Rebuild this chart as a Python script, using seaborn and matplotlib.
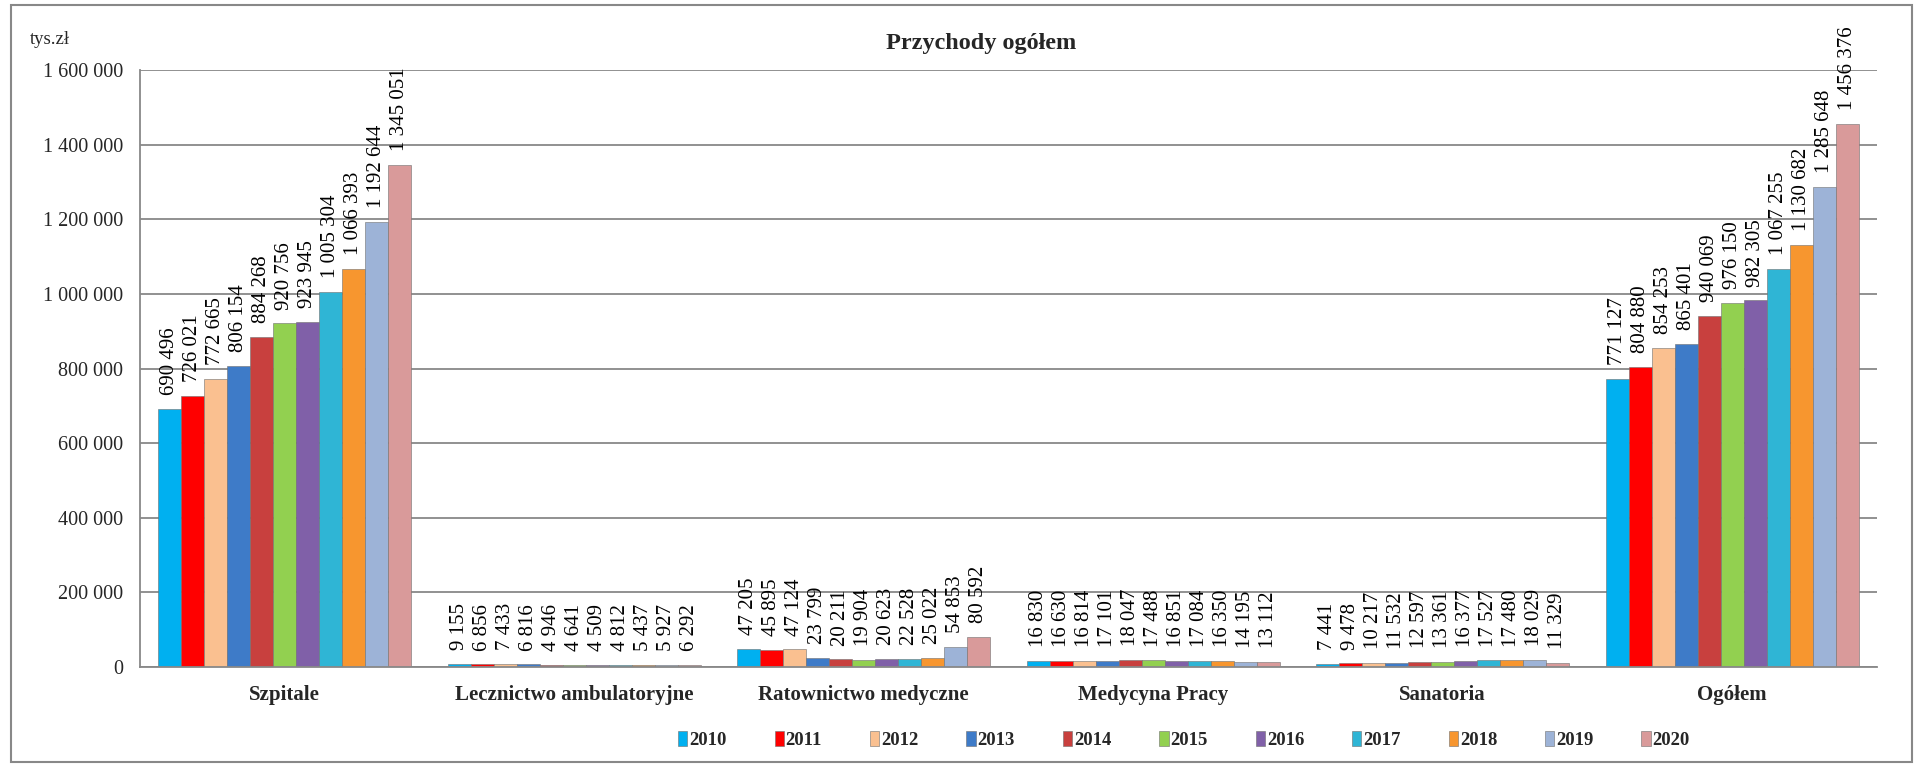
import numpy as np
import pandas as pd
import matplotlib
matplotlib.use("Agg")
import matplotlib.pyplot as plt
from matplotlib.patches import Rectangle
import seaborn as sns

categories = ["Szpitale", "Lecznictwo ambulatoryjne", "Ratownictwo medyczne",
              "Medycyna Pracy", "Sanatoria", "Ogółem"]
years = ["2010", "2011", "2012", "2013", "2014", "2015", "2016", "2017", "2018", "2019", "2020"]

szpitale = [690496, 726021, 772665, 806154, 884268, 920756, 923945, 1005304, 1066393, 1192644, 1345051]
lecznictwo = [9155, 6856, 7433, 6816, 4946, 4641, 4509, 4812, 5437, 5927, 6292]
ratownictwo = [47205, 45895, 47124, 23799, 20211, 19904, 20623, 22528, 25022, 54853, 80592]
medycyna = [16830, 16630, 16814, 17101, 18047, 17488, 16851, 17084, 16350, 14195, 13112]
sanatoria = [7441, 9478, 10217, 11532, 12597, 13361, 16377, 17527, 17480, 18029, 11329]
ogolem = [771127, 804880, 854253, 865401, 940069, 976150, 982305, 1067255, 1130682, 1285648, 1456376]

colors = ["#00B0F0", "#FF0000", "#FAC090", "#3E7BC8", "#C8403E", "#92D050",
          "#8060A8", "#2FB5D5", "#F7962F", "#9DB3D7", "#D99A9A"]

series = [szpitale, lecznictwo, ratownictwo, medycyna, sanatoria, ogolem]
rows = []
for cat, vals in zip(categories, series):
    for yr, v in zip(years, vals):
        rows.append({"Kategoria": cat, "Rok": yr, "Wartość": v})
df = pd.DataFrame(rows)

sns.set_style("white")
plt.rcParams["font.family"] = ["Liberation Serif", "DejaVu Serif"]

W, H = 1918, 767
fig = plt.figure(figsize=(W / 100, H / 100), dpi=100)
ax = fig.add_axes([140 / W, (H - 667) / H, (1877 - 140) / W, (667 - 70) / H])

sns.barplot(data=df, x="Kategoria", y="Wartość", hue="Rok", order=categories,
            hue_order=years, palette=colors, width=0.875, gap=0, ax=ax,
            edgecolor="#707070", linewidth=0.4, saturation=1, legend=True)

# value labels
def fmt(v):
    return f"{int(v):,}".replace(",", " ")

for container in ax.containers:
    for bar in container:
        h = bar.get_height()
        ax.annotate(fmt(h), xy=(bar.get_x() + bar.get_width() / 2, h),
                    xytext=(0, 10), textcoords="offset points",
                    rotation=90, ha="center", va="bottom", fontsize=15,
                    color="black")

ax.set_ylim(0, 1600000)
ax.set_xlim(-0.5, 5.5)
ax.set_yticks(np.arange(0, 1600001, 200000))
ax.set_yticklabels([fmt(v) for v in np.arange(0, 1600001, 200000)], fontsize=14.5)
ax.yaxis.grid(True, color="#888888", linewidth=1.3)
ax.set_axisbelow(True)
ax.set_xlabel("")
ax.set_ylabel("")

ax.set_xticks(range(len(categories)))
ax.set_xticklabels(categories, fontsize=15, fontweight="bold")
ax.set_xticks(np.arange(-0.5, 6, 1), minor=True)
ax.tick_params(axis="x", which="major", length=0, pad=13)
ax.tick_params(axis="x", which="minor", length=6, width=1.2, color="#888888", direction="out")
ax.tick_params(axis="y", which="major", length=4, width=1.2, color="#888888", direction="out", pad=8)

for s in ["top", "right"]:
    ax.spines[s].set_visible(False)
for s in ["left", "bottom"]:
    ax.spines[s].set_color("#888888")
    ax.spines[s].set_linewidth(1.3)

# legend
handles, labels = ax.get_legend_handles_labels()
ax.legend_.remove()
leg = fig.legend(handles, labels, loc="center", bbox_to_anchor=(1184 / W, 1 - 740 / H),
                 ncol=11, frameon=False, handlelength=0.5, handleheight=0.85,
                 handletextpad=0.1, columnspacing=2.55,
                 prop={"weight": "bold", "size": 13.5})

fig.text(981 / W, 1 - 44 / H, "Przychody ogółem", ha="center", va="center",
         fontsize=17.5, fontweight="bold")
fig.text(30 / W, 1 - 40 / H, "tys.zł", ha="left", va="center", fontsize=13.5)

fig.patches.append(Rectangle((11 / W, 5 / H), (1912 - 11) / W, (762 - 5) / H,
                             transform=fig.transFigure, fill=False,
                             edgecolor="#888888", linewidth=1.5))

fig.savefig("out.png", dpi=100)
